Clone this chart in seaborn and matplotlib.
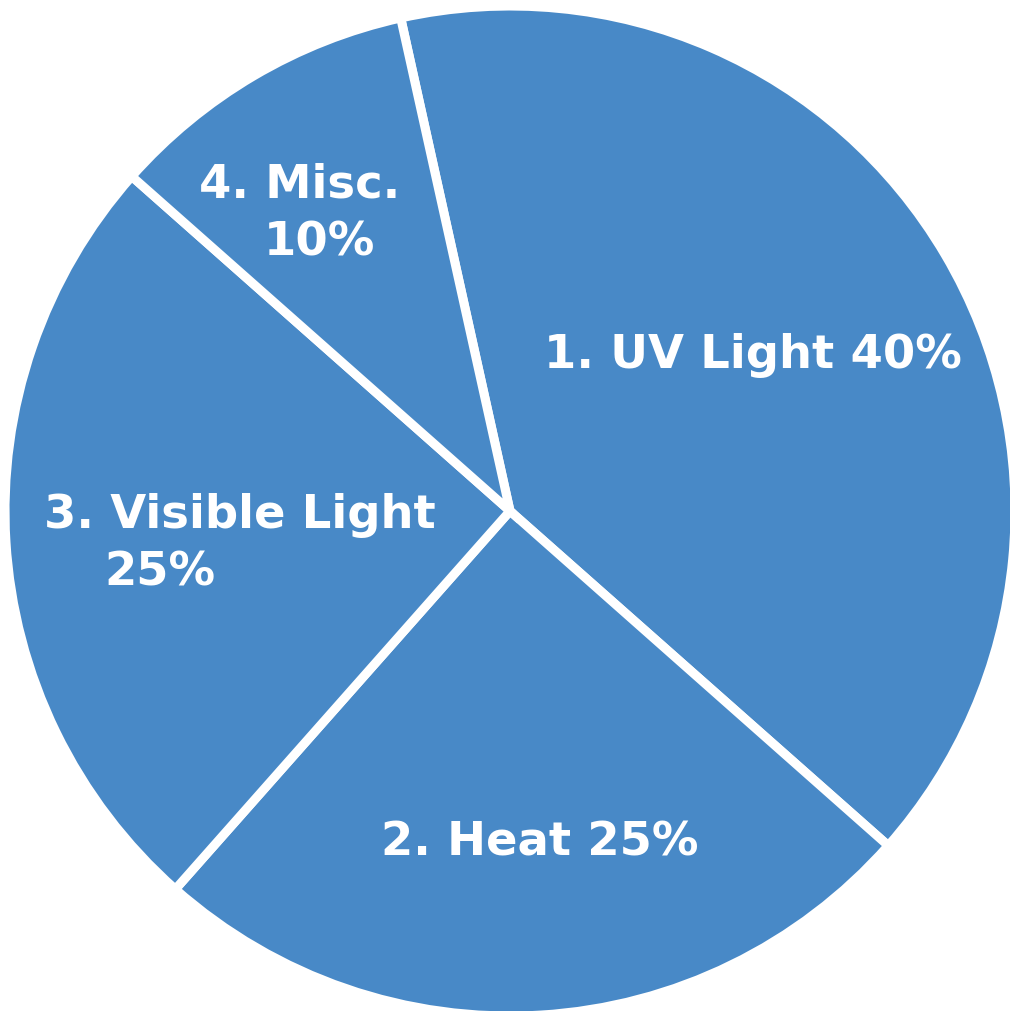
import matplotlib
matplotlib.use("Agg")
import matplotlib.pyplot as plt
import seaborn as sns

categories = ["1. UV Light", "2. Heat", "3. Visible Light", "4. Misc."]
values = [40, 25, 25, 10]
# each label as drawn, one entry per line
label_lines = [["1. UV Light 40%"], ["2. Heat 25%"], ["3. Visible Light", "25%"], ["4. Misc.", "10%"]]
# label line centres in data units (pie radius = 1)
label_pos = [
    [(0.485, 0.311)],
    [(0.060, -0.663)],
    [(-0.539, -0.008), (-0.699, -0.124)],
    [(-0.419, 0.651), (-0.381, 0.535)],
]

sns.set_theme(style="white")
plt.rcParams["font.family"] = ["DejaVu Sans"]

fig = plt.figure(figsize=(10.1, 10.11), dpi=100)
ax = fig.add_axes([0, 0, 1, 1])

ax.pie(values, startangle=102.5, counterclock=False, colors=["#4889c7"] * 4,
       radius=1.008, wedgeprops=dict(edgecolor="white", linewidth=6.5))

for lines, pos in zip(label_lines, label_pos):
    for txt, (x, y) in zip(lines, pos):
        ax.text(x, y, txt, ha="center", va="center", color="white",
                fontsize=33.5, fontweight="bold")

ax.set_xlim(-1.018, 0.998)
ax.set_ylim(-0.998, 1.02)
ax.set_aspect("auto")
ax.axis("off")

fig.savefig("out.png", dpi=100, facecolor="white")
